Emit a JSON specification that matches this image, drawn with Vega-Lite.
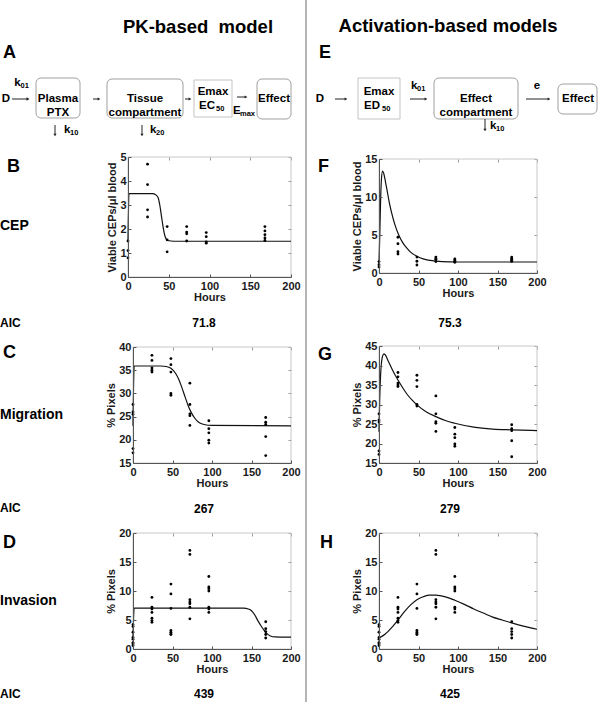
{
"$schema":"https://vega.github.io/schema/vega-lite/v6.json",
"width":600,"height":724,"autosize":{"type":"none"},"padding":0,"background":"white",
"config":{
 "view":{"stroke":null},
 "font":"Liberation Sans",
 "axis":{"labelFont":"Liberation Sans","labelFontSize":11,"labelFontWeight":"bold","labelColor":"#1a1a1a","titleFont":"Liberation Sans","titleFontSize":11,"titleFontWeight":"bold","titleColor":"#1a1a1a","domainColor":"#555555","tickColor":"#555555","tickSize":-3,"grid":false,"labelFlush":false,"labelOverlap":false},
 "axisX":{"labelPadding":6,"titlePadding":0},
 "axisY":{"labelPadding":5,"titlePadding":2},
 "style":{
  "ttl":{"font":"Liberation Sans","fontWeight":"bold","fontSize":18.5,"fill":"#111111"},
  "let":{"font":"Liberation Sans","fontWeight":"bold","fontSize":18,"fill":"#111111"},
  "rowl":{"font":"Liberation Sans","fontWeight":"bold","fontSize":14,"fill":"#111111"},
  "aic":{"font":"Liberation Sans","fontWeight":"bold","fontSize":12,"fill":"#111111"},
  "box":{"font":"Liberation Sans","fontWeight":"bold","fontSize":11.5,"fill":"#111111","lineHeight":14},
  "sub":{"font":"Liberation Sans","fontWeight":"bold","fontSize":7.5,"fill":"#111111"}
 }
},
"datasets":{
 "cep":[
  {"hours":0,"value":1.5},{"hours":0,"value":1.1},{"hours":0,"value":0.8},
  {"hours":24,"value":4.7},{"hours":24,"value":3.85},{"hours":24,"value":2.8},{"hours":24,"value":2.5},
  {"hours":48,"value":2.1},{"hours":48,"value":1.55},{"hours":48,"value":1.05},
  {"hours":72,"value":2.1},{"hours":72,"value":1.87},{"hours":72,"value":1.8},{"hours":72,"value":1.5},
  {"hours":96,"value":1.85},{"hours":96,"value":1.68},{"hours":96,"value":1.46},{"hours":96,"value":1.41},
  {"hours":168,"value":2.1},{"hours":168,"value":1.92},{"hours":168,"value":1.76},{"hours":168,"value":1.63},{"hours":168,"value":1.52}
 ],
 "migration":[
  {"hours":0,"value":27.6},{"hours":0,"value":26.0},{"hours":0,"value":25.5},{"hours":0,"value":18.1},{"hours":0,"value":17.2},
  {"hours":24,"value":38.2},{"hours":24,"value":37.1},{"hours":24,"value":35.5},{"hours":24,"value":35.0},{"hours":24,"value":34.6},
  {"hours":48,"value":37.5},{"hours":48,"value":36.2},{"hours":48,"value":34.6},{"hours":48,"value":30.0},{"hours":48,"value":29.6},
  {"hours":72,"value":32.2},{"hours":72,"value":27.6},{"hours":72,"value":25.6},{"hours":72,"value":25.2},{"hours":72,"value":23.1},
  {"hours":96,"value":24.1},{"hours":96,"value":22.4},{"hours":96,"value":21.5},{"hours":96,"value":19.9},{"hours":96,"value":19.3},
  {"hours":168,"value":24.8},{"hours":168,"value":23.8},{"hours":168,"value":23.3},{"hours":168,"value":20.7},{"hours":168,"value":16.6}
 ],
 "invasion":[
  {"hours":0,"value":4.2},{"hours":0,"value":3.9},{"hours":0,"value":2.9},{"hours":0,"value":2.0},{"hours":0,"value":1.7},{"hours":0,"value":1.1},{"hours":0,"value":0.9},{"hours":0,"value":0.6},
  {"hours":24,"value":8.9},{"hours":24,"value":7.2},{"hours":24,"value":6.9},{"hours":24,"value":6.3},{"hours":24,"value":5.3},{"hours":24,"value":4.9},{"hours":24,"value":4.6},
  {"hours":48,"value":11.2},{"hours":48,"value":9.5},{"hours":48,"value":7.0},{"hours":48,"value":3.2},{"hours":48,"value":2.9},{"hours":48,"value":2.6},{"hours":48,"value":2.5},
  {"hours":72,"value":17.0},{"hours":72,"value":16.3},{"hours":72,"value":8.5},{"hours":72,"value":8.1},{"hours":72,"value":7.8},{"hours":72,"value":7.2},{"hours":72,"value":5.2},
  {"hours":96,"value":12.5},{"hours":96,"value":10.7},{"hours":96,"value":10.4},{"hours":96,"value":10.0},{"hours":96,"value":7.2},{"hours":96,"value":6.9},{"hours":96,"value":6.3},
  {"hours":168,"value":4.7},{"hours":168,"value":3.5},{"hours":168,"value":3.0},{"hours":168,"value":2.5},{"hours":168,"value":1.9}
 ],
 "fitB":[
  {"hours":0,"value":1.48},{"hours":1.2,"value":3.47},{"hours":30,"value":3.47},{"hours":34,"value":3.43},{"hours":37,"value":3.3},{"hours":39,"value":3.0},{"hours":41,"value":2.55},{"hours":43,"value":2.1},{"hours":45,"value":1.75},{"hours":47,"value":1.58},{"hours":50,"value":1.51},{"hours":56,"value":1.49},{"hours":200,"value":1.49}
 ],
 "fitF":[
  {"hours":0,"value":1.2},{"hours":1,"value":5},{"hours":2,"value":9.5},{"hours":3,"value":12.2},{"hours":4.5,"value":13.4},{"hours":6,"value":13.1},{"hours":8,"value":12.1},{"hours":10,"value":11},{"hours":13,"value":9.3},{"hours":16,"value":7.9},{"hours":20,"value":6.4},{"hours":25,"value":5.0},{"hours":30,"value":4.0},{"hours":35,"value":3.3},{"hours":40,"value":2.75},{"hours":48,"value":2.2},{"hours":56,"value":1.85},{"hours":65,"value":1.65},{"hours":80,"value":1.5},{"hours":100,"value":1.45},{"hours":200,"value":1.45}
 ],
 "fitC":[
  {"hours":0,"value":23.0},{"hours":1.5,"value":35.9},{"hours":35,"value":35.9},{"hours":42,"value":35.8},{"hours":48,"value":35.4},{"hours":54,"value":34.3},{"hours":58,"value":33.0},{"hours":62,"value":31.2},{"hours":66,"value":29.2},{"hours":70,"value":27.3},{"hours":74,"value":25.8},{"hours":78,"value":24.7},{"hours":83,"value":23.8},{"hours":90,"value":23.3},{"hours":100,"value":23.1},{"hours":200,"value":23.0}
 ],
 "fitG":[
  {"hours":0,"value":23},{"hours":1,"value":32},{"hours":2,"value":37.5},{"hours":3,"value":40.5},{"hours":4.5,"value":42.4},{"hours":6.3,"value":43},{"hours":8,"value":42.7},{"hours":12,"value":41},{"hours":16,"value":39.3},{"hours":20,"value":37.7},{"hours":24,"value":36.3},{"hours":30,"value":34.3},{"hours":36,"value":32.5},{"hours":42,"value":31.1},{"hours":48,"value":29.9},{"hours":60,"value":28.1},{"hours":72,"value":26.9},{"hours":84,"value":25.9},{"hours":96,"value":25.2},{"hours":120,"value":24.2},{"hours":144,"value":23.7},{"hours":168,"value":23.5},{"hours":200,"value":23.3}
 ],
 "fitD":[
  {"hours":0,"value":1.9},{"hours":1.5,"value":7.05},{"hours":140,"value":7.05},{"hours":146,"value":6.9},{"hours":150,"value":6.6},{"hours":154,"value":5.9},{"hours":158,"value":4.9},{"hours":162,"value":4.0},{"hours":166,"value":3.2},{"hours":170,"value":2.6},{"hours":174,"value":2.25},{"hours":180,"value":2.08},{"hours":190,"value":2.05},{"hours":200,"value":2.05}
 ],
 "fitH":[
  {"hours":0,"value":1.9},{"hours":8,"value":2.6},{"hours":16,"value":3.7},{"hours":24,"value":5.0},{"hours":32,"value":6.4},{"hours":40,"value":7.6},{"hours":48,"value":8.5},{"hours":56,"value":9.0},{"hours":64,"value":9.3},{"hours":72,"value":9.3},{"hours":84,"value":9.0},{"hours":96,"value":8.4},{"hours":108,"value":7.7},{"hours":120,"value":6.9},{"hours":132,"value":6.2},{"hours":144,"value":5.5},{"hours":156,"value":5.0},{"hours":168,"value":4.5},{"hours":184,"value":3.9},{"hours":200,"value":3.4}
 ],
 "aic":[
  {"outcome":"CEP","model":"PK-based","AIC":"71.8"},{"outcome":"CEP","model":"Activation-based","AIC":"75.3"},
  {"outcome":"Migration","model":"PK-based","AIC":"267"},{"outcome":"Migration","model":"Activation-based","AIC":"279"},
  {"outcome":"Invasion","model":"PK-based","AIC":"439"},{"outcome":"Invasion","model":"Activation-based","AIC":"425"}
 ]
},
"layer":[
 {
  "data":{"values":[{}]},
  "layer":[
   {"mark":{"type":"rule","stroke":"#8c8c8c","strokeWidth":1.3},"encoding":{"x":{"datum":306,"type":"quantitative","scale":{"domain":[0,600],"range":[0,600],"nice":false,"zero":false},"axis":null},"y":{"datum":0,"type":"quantitative","scale":{"domain":[0,724],"range":[0,724],"nice":false,"zero":false},"axis":null},"y2":{"datum":702}}},
   {"mark":{"type":"text","style":"ttl","align":"center","baseline":"middle"},"encoding":{"x":{"datum":198,"type":"quantitative","axis":null},"y":{"datum":27,"type":"quantitative","axis":null},"text":{"value":"PK-based\u00a0 model"}}},
   {"mark":{"type":"text","style":"ttl","align":"center","baseline":"middle"},"encoding":{"x":{"datum":448,"type":"quantitative","axis":null},"y":{"datum":26,"type":"quantitative","axis":null},"text":{"value":"Activation-based models"}}},
   {"mark":{"type":"text","style":"let","align":"left","baseline":"middle"},"encoding":{"x":{"datum":3,"type":"quantitative","axis":null},"y":{"datum":53,"type":"quantitative","axis":null},"text":{"value":"A"}}},
   {"mark":{"type":"text","style":"let","align":"left","baseline":"middle"},"encoding":{"x":{"datum":319,"type":"quantitative","axis":null},"y":{"datum":53,"type":"quantitative","axis":null},"text":{"value":"E"}}},
   {"mark":{"type":"text","style":"let","align":"left","baseline":"middle"},"encoding":{"x":{"datum":7,"type":"quantitative","axis":null},"y":{"datum":167,"type":"quantitative","axis":null},"text":{"value":"B"}}},
   {"mark":{"type":"text","style":"let","align":"left","baseline":"middle"},"encoding":{"x":{"datum":318,"type":"quantitative","axis":null},"y":{"datum":167,"type":"quantitative","axis":null},"text":{"value":"F"}}},
   {"mark":{"type":"text","style":"let","align":"left","baseline":"middle"},"encoding":{"x":{"datum":3,"type":"quantitative","axis":null},"y":{"datum":353,"type":"quantitative","axis":null},"text":{"value":"C"}}},
   {"mark":{"type":"text","style":"let","align":"left","baseline":"middle"},"encoding":{"x":{"datum":318,"type":"quantitative","axis":null},"y":{"datum":355,"type":"quantitative","axis":null},"text":{"value":"G"}}},
   {"mark":{"type":"text","style":"let","align":"left","baseline":"middle"},"encoding":{"x":{"datum":3,"type":"quantitative","axis":null},"y":{"datum":543,"type":"quantitative","axis":null},"text":{"value":"D"}}},
   {"mark":{"type":"text","style":"let","align":"left","baseline":"middle"},"encoding":{"x":{"datum":320,"type":"quantitative","axis":null},"y":{"datum":543,"type":"quantitative","axis":null},"text":{"value":"H"}}},
   {"mark":{"type":"text","style":"rowl","align":"left","baseline":"middle"},"encoding":{"x":{"datum":0,"type":"quantitative","axis":null},"y":{"datum":226,"type":"quantitative","axis":null},"text":{"value":"CEP"}}},
   {"mark":{"type":"text","style":"rowl","align":"left","baseline":"middle"},"encoding":{"x":{"datum":0,"type":"quantitative","axis":null},"y":{"datum":415,"type":"quantitative","axis":null},"text":{"value":"Migration"}}},
   {"mark":{"type":"text","style":"rowl","align":"left","baseline":"middle"},"encoding":{"x":{"datum":0,"type":"quantitative","axis":null},"y":{"datum":601,"type":"quantitative","axis":null},"text":{"value":"Invasion"}}},
   {"mark":{"type":"text","style":"aic","align":"left","baseline":"middle"},"encoding":{"x":{"datum":0,"type":"quantitative","axis":null},"y":{"datum":323,"type":"quantitative","axis":null},"text":{"value":"AIC"}}},
   {"mark":{"type":"text","style":"aic","align":"left","baseline":"middle"},"encoding":{"x":{"datum":0,"type":"quantitative","axis":null},"y":{"datum":508,"type":"quantitative","axis":null},"text":{"value":"AIC"}}},
   {"mark":{"type":"text","style":"aic","align":"left","baseline":"middle"},"encoding":{"x":{"datum":0,"type":"quantitative","axis":null},"y":{"datum":694,"type":"quantitative","axis":null},"text":{"value":"AIC"}}},

   {"mark":{"type":"rect","fill":"white","stroke":"#a0a0a0","strokeWidth":1,"cornerRadius":5},"encoding":{"x":{"datum":36,"type":"quantitative","axis":null},"x2":{"datum":80},"y":{"datum":78,"type":"quantitative","axis":null},"y2":{"datum":118}}},
   {"mark":{"type":"rect","fill":"white","stroke":"#a0a0a0","strokeWidth":1,"cornerRadius":5},"encoding":{"x":{"datum":107,"type":"quantitative","axis":null},"x2":{"datum":183},"y":{"datum":79,"type":"quantitative","axis":null},"y2":{"datum":118}}},
   {"mark":{"type":"rect","fill":"white","stroke":"#c4c4c4","strokeWidth":1},"encoding":{"x":{"datum":194,"type":"quantitative","axis":null},"x2":{"datum":232},"y":{"datum":80,"type":"quantitative","axis":null},"y2":{"datum":117}}},
   {"mark":{"type":"rect","fill":"white","stroke":"#a0a0a0","strokeWidth":1,"cornerRadius":5},"encoding":{"x":{"datum":257,"type":"quantitative","axis":null},"x2":{"datum":291},"y":{"datum":79,"type":"quantitative","axis":null},"y2":{"datum":119}}},
   {"mark":{"type":"rect","fill":"white","stroke":"#c4c4c4","strokeWidth":1},"encoding":{"x":{"datum":358,"type":"quantitative","axis":null},"x2":{"datum":400},"y":{"datum":78,"type":"quantitative","axis":null},"y2":{"datum":119}}},
   {"mark":{"type":"rect","fill":"white","stroke":"#a0a0a0","strokeWidth":1,"cornerRadius":5},"encoding":{"x":{"datum":434,"type":"quantitative","axis":null},"x2":{"datum":518},"y":{"datum":78,"type":"quantitative","axis":null},"y2":{"datum":119}}},
   {"mark":{"type":"rect","fill":"white","stroke":"#a0a0a0","strokeWidth":1,"cornerRadius":5},"encoding":{"x":{"datum":558,"type":"quantitative","axis":null},"x2":{"datum":597},"y":{"datum":84,"type":"quantitative","axis":null},"y2":{"datum":114}}},

   {"mark":{"type":"text","style":"box","align":"center","baseline":"middle"},"encoding":{"x":{"datum":6,"type":"quantitative","axis":null},"y":{"datum":99,"type":"quantitative","axis":null},"text":{"value":"D"}}},
   {"mark":{"type":"text","style":"box","align":"center","baseline":"middle"},"encoding":{"x":{"datum":17.5,"type":"quantitative","axis":null},"y":{"datum":83,"type":"quantitative","axis":null},"text":{"value":"k"}}},
   {"mark":{"type":"text","style":"sub","align":"left","baseline":"middle"},"encoding":{"x":{"datum":20.5,"type":"quantitative","axis":null},"y":{"datum":86,"type":"quantitative","axis":null},"text":{"value":"01"}}},
   {"mark":{"type":"text","style":"box","align":"center","baseline":"middle"},"encoding":{"x":{"datum":58,"type":"quantitative","axis":null},"y":{"datum":99,"type":"quantitative","axis":null},"text":{"value":["Plasma","PTX"]}}},
   {"mark":{"type":"text","style":"box","align":"center","baseline":"middle"},"encoding":{"x":{"datum":145,"type":"quantitative","axis":null},"y":{"datum":99,"type":"quantitative","axis":null},"text":{"value":["Tissue","compartment"]}}},
   {"mark":{"type":"text","style":"box","align":"center","baseline":"middle"},"encoding":{"x":{"datum":213,"type":"quantitative","axis":null},"y":{"datum":92,"type":"quantitative","axis":null},"text":{"value":"Emax"}}},
   {"mark":{"type":"text","style":"box","align":"left","baseline":"middle"},"encoding":{"x":{"datum":199,"type":"quantitative","axis":null},"y":{"datum":106,"type":"quantitative","axis":null},"text":{"value":"EC"}}},
   {"mark":{"type":"text","style":"sub","align":"left","baseline":"middle"},"encoding":{"x":{"datum":216,"type":"quantitative","axis":null},"y":{"datum":109,"type":"quantitative","axis":null},"text":{"value":"50"}}},
   {"mark":{"type":"text","style":"box","align":"left","baseline":"middle"},"encoding":{"x":{"datum":233,"type":"quantitative","axis":null},"y":{"datum":111,"type":"quantitative","axis":null},"text":{"value":"E"}}},
   {"mark":{"type":"text","style":"sub","align":"left","baseline":"middle"},"encoding":{"x":{"datum":240,"type":"quantitative","axis":null},"y":{"datum":114,"type":"quantitative","axis":null},"text":{"value":"max"}}},
   {"mark":{"type":"text","style":"box","align":"center","baseline":"middle"},"encoding":{"x":{"datum":274,"type":"quantitative","axis":null},"y":{"datum":99,"type":"quantitative","axis":null},"text":{"value":"Effect"}}},
   {"mark":{"type":"text","style":"box","align":"left","baseline":"middle"},"encoding":{"x":{"datum":64,"type":"quantitative","axis":null},"y":{"datum":130,"type":"quantitative","axis":null},"text":{"value":"k"}}},
   {"mark":{"type":"text","style":"sub","align":"left","baseline":"middle"},"encoding":{"x":{"datum":70,"type":"quantitative","axis":null},"y":{"datum":133,"type":"quantitative","axis":null},"text":{"value":"10"}}},
   {"mark":{"type":"text","style":"box","align":"left","baseline":"middle"},"encoding":{"x":{"datum":150,"type":"quantitative","axis":null},"y":{"datum":130,"type":"quantitative","axis":null},"text":{"value":"k"}}},
   {"mark":{"type":"text","style":"sub","align":"left","baseline":"middle"},"encoding":{"x":{"datum":156,"type":"quantitative","axis":null},"y":{"datum":133,"type":"quantitative","axis":null},"text":{"value":"20"}}},

   {"mark":{"type":"text","style":"box","align":"center","baseline":"middle"},"encoding":{"x":{"datum":320,"type":"quantitative","axis":null},"y":{"datum":99,"type":"quantitative","axis":null},"text":{"value":"D"}}},
   {"mark":{"type":"text","style":"box","align":"center","baseline":"middle"},"encoding":{"x":{"datum":379,"type":"quantitative","axis":null},"y":{"datum":92,"type":"quantitative","axis":null},"text":{"value":"Emax"}}},
   {"mark":{"type":"text","style":"box","align":"left","baseline":"middle"},"encoding":{"x":{"datum":364,"type":"quantitative","axis":null},"y":{"datum":106,"type":"quantitative","axis":null},"text":{"value":"ED"}}},
   {"mark":{"type":"text","style":"sub","align":"left","baseline":"middle"},"encoding":{"x":{"datum":382,"type":"quantitative","axis":null},"y":{"datum":109,"type":"quantitative","axis":null},"text":{"value":"50"}}},
   {"mark":{"type":"text","style":"box","align":"left","baseline":"middle"},"encoding":{"x":{"datum":411,"type":"quantitative","axis":null},"y":{"datum":86,"type":"quantitative","axis":null},"text":{"value":"k"}}},
   {"mark":{"type":"text","style":"sub","align":"left","baseline":"middle"},"encoding":{"x":{"datum":417,"type":"quantitative","axis":null},"y":{"datum":89,"type":"quantitative","axis":null},"text":{"value":"01"}}},
   {"mark":{"type":"text","style":"box","align":"center","baseline":"middle"},"encoding":{"x":{"datum":476,"type":"quantitative","axis":null},"y":{"datum":99,"type":"quantitative","axis":null},"text":{"value":["Effect","compartment"]}}},
   {"mark":{"type":"text","style":"box","align":"center","baseline":"middle"},"encoding":{"x":{"datum":537,"type":"quantitative","axis":null},"y":{"datum":86,"type":"quantitative","axis":null},"text":{"value":"e"}}},
   {"mark":{"type":"text","style":"box","align":"center","baseline":"middle"},"encoding":{"x":{"datum":578,"type":"quantitative","axis":null},"y":{"datum":99,"type":"quantitative","axis":null},"text":{"value":"Effect"}}},
   {"mark":{"type":"text","style":"box","align":"left","baseline":"middle"},"encoding":{"x":{"datum":490,"type":"quantitative","axis":null},"y":{"datum":126,"type":"quantitative","axis":null},"text":{"value":"k"}}},
   {"mark":{"type":"text","style":"sub","align":"left","baseline":"middle"},"encoding":{"x":{"datum":496,"type":"quantitative","axis":null},"y":{"datum":129,"type":"quantitative","axis":null},"text":{"value":"10"}}},

   {"mark":{"type":"rule","stroke":"#222222","strokeWidth":1},"encoding":{"x":{"datum":12,"type":"quantitative","axis":null},"x2":{"datum":27},"y":{"datum":99,"type":"quantitative","axis":null}}},
   {"mark":{"type":"point","shape":"triangle-right","filled":true,"size":12,"color":"#222222","opacity":1},"encoding":{"x":{"datum":28,"type":"quantitative","axis":null},"y":{"datum":99,"type":"quantitative","axis":null}}},
   {"mark":{"type":"rule","stroke":"#222222","strokeWidth":1},"encoding":{"x":{"datum":93,"type":"quantitative","axis":null},"x2":{"datum":98},"y":{"datum":99,"type":"quantitative","axis":null}}},
   {"mark":{"type":"point","shape":"triangle-right","filled":true,"size":10,"color":"#222222","opacity":1},"encoding":{"x":{"datum":99,"type":"quantitative","axis":null},"y":{"datum":99,"type":"quantitative","axis":null}}},
   {"mark":{"type":"rule","stroke":"#222222","strokeWidth":1},"encoding":{"x":{"datum":185,"type":"quantitative","axis":null},"x2":{"datum":189},"y":{"datum":99,"type":"quantitative","axis":null}}},
   {"mark":{"type":"point","shape":"triangle-right","filled":true,"size":10,"color":"#222222","opacity":1},"encoding":{"x":{"datum":190,"type":"quantitative","axis":null},"y":{"datum":99,"type":"quantitative","axis":null}}},
   {"mark":{"type":"rule","stroke":"#222222","strokeWidth":1},"encoding":{"x":{"datum":237,"type":"quantitative","axis":null},"x2":{"datum":245},"y":{"datum":97,"type":"quantitative","axis":null}}},
   {"mark":{"type":"point","shape":"triangle-right","filled":true,"size":10,"color":"#222222","opacity":1},"encoding":{"x":{"datum":246,"type":"quantitative","axis":null},"y":{"datum":97,"type":"quantitative","axis":null}}},
   {"mark":{"type":"rule","stroke":"#222222","strokeWidth":1},"encoding":{"x":{"datum":55,"type":"quantitative","axis":null},"y":{"datum":125,"type":"quantitative","axis":null},"y2":{"datum":134}}},
   {"mark":{"type":"point","shape":"triangle-down","filled":true,"size":10,"color":"#222222","opacity":1},"encoding":{"x":{"datum":55,"type":"quantitative","axis":null},"y":{"datum":135,"type":"quantitative","axis":null}}},
   {"mark":{"type":"rule","stroke":"#222222","strokeWidth":1},"encoding":{"x":{"datum":142,"type":"quantitative","axis":null},"y":{"datum":125,"type":"quantitative","axis":null},"y2":{"datum":134}}},
   {"mark":{"type":"point","shape":"triangle-down","filled":true,"size":10,"color":"#222222","opacity":1},"encoding":{"x":{"datum":142,"type":"quantitative","axis":null},"y":{"datum":135,"type":"quantitative","axis":null}}},
   {"mark":{"type":"rule","stroke":"#222222","strokeWidth":1},"encoding":{"x":{"datum":335,"type":"quantitative","axis":null},"x2":{"datum":345},"y":{"datum":99,"type":"quantitative","axis":null}}},
   {"mark":{"type":"point","shape":"triangle-right","filled":true,"size":10,"color":"#222222","opacity":1},"encoding":{"x":{"datum":346,"type":"quantitative","axis":null},"y":{"datum":99,"type":"quantitative","axis":null}}},
   {"mark":{"type":"rule","stroke":"#222222","strokeWidth":1},"encoding":{"x":{"datum":410,"type":"quantitative","axis":null},"x2":{"datum":425},"y":{"datum":99,"type":"quantitative","axis":null}}},
   {"mark":{"type":"point","shape":"triangle-right","filled":true,"size":10,"color":"#222222","opacity":1},"encoding":{"x":{"datum":426,"type":"quantitative","axis":null},"y":{"datum":99,"type":"quantitative","axis":null}}},
   {"mark":{"type":"rule","stroke":"#222222","strokeWidth":1},"encoding":{"x":{"datum":526,"type":"quantitative","axis":null},"x2":{"datum":548},"y":{"datum":99,"type":"quantitative","axis":null}}},
   {"mark":{"type":"point","shape":"triangle-right","filled":true,"size":10,"color":"#222222","opacity":1},"encoding":{"x":{"datum":549,"type":"quantitative","axis":null},"y":{"datum":99,"type":"quantitative","axis":null}}},
   {"mark":{"type":"rule","stroke":"#222222","strokeWidth":1},"encoding":{"x":{"datum":485,"type":"quantitative","axis":null},"y":{"datum":119,"type":"quantitative","axis":null},"y2":{"datum":129}}},
   {"mark":{"type":"point","shape":"triangle-down","filled":true,"size":10,"color":"#222222","opacity":1},"encoding":{"x":{"datum":485,"type":"quantitative","axis":null},"y":{"datum":130,"type":"quantitative","axis":null}}}
  ]
 },
 {
  "data":{"name":"aic"},
  "mark":{"type":"text","style":"aic","align":"center","baseline":"middle"},
  "encoding":{
   "x":{"field":"model","type":"nominal","scale":{"type":"point","domain":["PK-based","Activation-based"],"range":[204,450],"padding":0},"axis":null},
   "y":{"field":"outcome","type":"nominal","scale":{"type":"point","domain":["CEP","Migration","Invasion"],"range":[323,694],"padding":0},"axis":null},
   "text":{"field":"AIC","type":"nominal"}
  }
 },
 {
  "resolve":{"axis":{"x":"independent","y":"independent"}},
  "layer":[
   {"data":{"values":[{}]},"mark":{"type":"rect","fill":"transparent","stroke":"#c8c8c8","strokeWidth":1},"encoding":{"x":{"datum":0,"type":"quantitative","axis":null},"x2":{"datum":200},"y":{"datum":0,"type":"quantitative","axis":null},"y2":{"datum":5}}},
   {"data":{"name":"fitB"},"mark":{"type":"line","stroke":"#111111","strokeWidth":1.2,"interpolate":"monotone"},
    "encoding":{"x":{"field":"hours","type":"quantitative","scale":{"domain":[0,200],"range":[128,291],"nice":false,"zero":false},"axis":{"orient":"bottom","offset":-447,"values":[0,50,100,150,200],"title":"Hours","zindex":1}},
     "y":{"field":"value","type":"quantitative","scale":{"domain":[0,5],"range":[277,157],"nice":false,"zero":false},"axis":{"orient":"left","offset":-128,"values":[0,1,2,3,4,5],"format":"d","title":"Viable CEPs/μl blood","zindex":1}}}},
   {"data":{"name":"cep"},"mark":{"type":"circle","size":8,"fill":"#000000","opacity":1},"encoding":{"x":{"field":"hours","type":"quantitative","axis":{"orient":"top","offset":-157,"values":[0,50,100,150,200],"labels":false,"domain":false,"title":null,"tickColor":"#999999"}},"y":{"field":"value","type":"quantitative","axis":{"orient":"right","offset":-309,"values":[0,1,2,3,4,5],"labels":false,"domain":false,"title":null,"tickColor":"#999999"}}}}
  ]
 },
 {
  "resolve":{"axis":{"x":"independent","y":"independent"}},
  "layer":[
   {"data":{"values":[{}]},"mark":{"type":"rect","fill":"transparent","stroke":"#c8c8c8","strokeWidth":1},"encoding":{"x":{"datum":0,"type":"quantitative","axis":null},"x2":{"datum":200},"y":{"datum":0,"type":"quantitative","axis":null},"y2":{"datum":15}}},
   {"data":{"name":"fitF"},"mark":{"type":"line","stroke":"#111111","strokeWidth":1.2,"interpolate":"monotone"},
    "encoding":{"x":{"field":"hours","type":"quantitative","scale":{"domain":[0,200],"range":[379,537],"nice":false,"zero":false},"axis":{"orient":"bottom","offset":-451,"values":[0,50,100,150,200],"title":"Hours","zindex":1}},
     "y":{"field":"value","type":"quantitative","scale":{"domain":[0,15],"range":[273,159],"nice":false,"zero":false},"axis":{"orient":"left","offset":-379,"values":[0,5,10,15],"format":"d","title":"Viable CEPs/μl blood","zindex":1}}}},
   {"data":{"name":"cep"},"mark":{"type":"circle","size":8,"fill":"#000000","opacity":1},"encoding":{"x":{"field":"hours","type":"quantitative","axis":{"orient":"top","offset":-159,"values":[0,50,100,150,200],"labels":false,"domain":false,"title":null,"tickColor":"#999999"}},"y":{"field":"value","type":"quantitative","axis":{"orient":"right","offset":-63,"values":[0,5,10,15],"labels":false,"domain":false,"title":null,"tickColor":"#999999"}}}}
  ]
 },
 {
  "resolve":{"axis":{"x":"independent","y":"independent"}},
  "layer":[
   {"data":{"values":[{}]},"mark":{"type":"rect","fill":"transparent","stroke":"#c8c8c8","strokeWidth":1},"encoding":{"x":{"datum":0,"type":"quantitative","axis":null},"x2":{"datum":200},"y":{"datum":15,"type":"quantitative","axis":null},"y2":{"datum":40}}},
   {"data":{"name":"fitC"},"mark":{"type":"line","stroke":"#111111","strokeWidth":1.2,"interpolate":"monotone"},
    "encoding":{"x":{"field":"hours","type":"quantitative","scale":{"domain":[0,200],"range":[133,291],"nice":false,"zero":false},"axis":{"orient":"bottom","offset":-261,"values":[0,50,100,150,200],"title":"Hours","zindex":1}},
     "y":{"field":"value","type":"quantitative","scale":{"domain":[15,40],"range":[463,347],"nice":false,"zero":false},"axis":{"orient":"left","offset":-133,"values":[15,20,25,30,35,40],"format":"d","title":"% Pixels","zindex":1}}}},
   {"data":{"name":"migration"},"mark":{"type":"circle","size":8,"fill":"#000000","opacity":1},"encoding":{"x":{"field":"hours","type":"quantitative","axis":{"orient":"top","offset":-347,"values":[0,50,100,150,200],"labels":false,"domain":false,"title":null,"tickColor":"#999999"}},"y":{"field":"value","type":"quantitative","axis":{"orient":"right","offset":-309,"values":[15,20,25,30,35,40],"labels":false,"domain":false,"title":null,"tickColor":"#999999"}}}}
  ]
 },
 {
  "resolve":{"axis":{"x":"independent","y":"independent"}},
  "layer":[
   {"data":{"values":[{}]},"mark":{"type":"rect","fill":"transparent","stroke":"#c8c8c8","strokeWidth":1},"encoding":{"x":{"datum":0,"type":"quantitative","axis":null},"x2":{"datum":200},"y":{"datum":15,"type":"quantitative","axis":null},"y2":{"datum":45}}},
   {"data":{"name":"fitG"},"mark":{"type":"line","stroke":"#111111","strokeWidth":1.2,"interpolate":"monotone"},
    "encoding":{"x":{"field":"hours","type":"quantitative","scale":{"domain":[0,200],"range":[379,537],"nice":false,"zero":false},"axis":{"orient":"bottom","offset":-261,"values":[0,50,100,150,200],"title":"Hours","zindex":1}},
     "y":{"field":"value","type":"quantitative","scale":{"domain":[15,45],"range":[463,346],"nice":false,"zero":false},"axis":{"orient":"left","offset":-379,"values":[15,20,25,30,35,40,45],"format":"d","title":"% Pixels","zindex":1}}}},
   {"data":{"name":"migration"},"mark":{"type":"circle","size":8,"fill":"#000000","opacity":1},"encoding":{"x":{"field":"hours","type":"quantitative","axis":{"orient":"top","offset":-346,"values":[0,50,100,150,200],"labels":false,"domain":false,"title":null,"tickColor":"#999999"}},"y":{"field":"value","type":"quantitative","axis":{"orient":"right","offset":-63,"values":[15,20,25,30,35,40,45],"labels":false,"domain":false,"title":null,"tickColor":"#999999"}}}}
  ]
 },
 {
  "resolve":{"axis":{"x":"independent","y":"independent"}},
  "layer":[
   {"data":{"values":[{}]},"mark":{"type":"rect","fill":"transparent","stroke":"#c8c8c8","strokeWidth":1},"encoding":{"x":{"datum":0,"type":"quantitative","axis":null},"x2":{"datum":200},"y":{"datum":0,"type":"quantitative","axis":null},"y2":{"datum":20}}},
   {"data":{"name":"fitD"},"mark":{"type":"line","stroke":"#111111","strokeWidth":1.2,"interpolate":"monotone"},
    "encoding":{"x":{"field":"hours","type":"quantitative","scale":{"domain":[0,200],"range":[133,291],"nice":false,"zero":false},"axis":{"orient":"bottom","offset":-75,"values":[0,50,100,150,200],"title":"Hours","zindex":1}},
     "y":{"field":"value","type":"quantitative","scale":{"domain":[0,20],"range":[649,533],"nice":false,"zero":false},"axis":{"orient":"left","offset":-133,"values":[0,5,10,15,20],"format":"d","title":"% Pixels","zindex":1}}}},
   {"data":{"name":"invasion"},"mark":{"type":"circle","size":8,"fill":"#000000","opacity":1},"encoding":{"x":{"field":"hours","type":"quantitative","axis":{"orient":"top","offset":-533,"values":[0,50,100,150,200],"labels":false,"domain":false,"title":null,"tickColor":"#999999"}},"y":{"field":"value","type":"quantitative","axis":{"orient":"right","offset":-309,"values":[0,5,10,15,20],"labels":false,"domain":false,"title":null,"tickColor":"#999999"}}}}
  ]
 },
 {
  "resolve":{"axis":{"x":"independent","y":"independent"}},
  "layer":[
   {"data":{"values":[{}]},"mark":{"type":"rect","fill":"transparent","stroke":"#c8c8c8","strokeWidth":1},"encoding":{"x":{"datum":0,"type":"quantitative","axis":null},"x2":{"datum":200},"y":{"datum":0,"type":"quantitative","axis":null},"y2":{"datum":20}}},
   {"data":{"name":"fitH"},"mark":{"type":"line","stroke":"#111111","strokeWidth":1.2,"interpolate":"monotone"},
    "encoding":{"x":{"field":"hours","type":"quantitative","scale":{"domain":[0,200],"range":[379,537],"nice":false,"zero":false},"axis":{"orient":"bottom","offset":-75,"values":[0,50,100,150,200],"title":"Hours","zindex":1}},
     "y":{"field":"value","type":"quantitative","scale":{"domain":[0,20],"range":[649,533],"nice":false,"zero":false},"axis":{"orient":"left","offset":-379,"values":[0,5,10,15,20],"format":"d","title":"% Pixels","zindex":1}}}},
   {"data":{"name":"invasion"},"mark":{"type":"circle","size":8,"fill":"#000000","opacity":1},"encoding":{"x":{"field":"hours","type":"quantitative","axis":{"orient":"top","offset":-533,"values":[0,50,100,150,200],"labels":false,"domain":false,"title":null,"tickColor":"#999999"}},"y":{"field":"value","type":"quantitative","axis":{"orient":"right","offset":-63,"values":[0,5,10,15,20],"labels":false,"domain":false,"title":null,"tickColor":"#999999"}}}}
  ]
 }
],
"resolve":{"scale":{"x":"independent","y":"independent"},"axis":{"x":"independent","y":"independent"}}
}
